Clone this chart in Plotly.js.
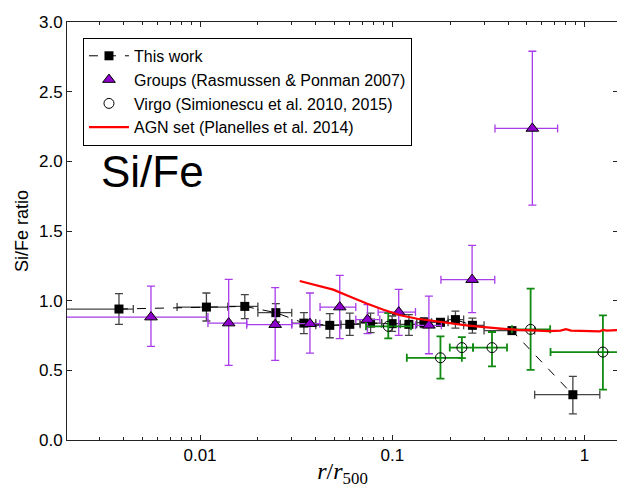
<!DOCTYPE html>
<html>
<head>
<meta charset="utf-8">
<script src="https://cdn.plot.ly/plotly-3.0.1.min.js"></script>
<style>
html,body{margin:0;padding:0;overflow:hidden;background:#fff;}
#chart{width:620px;height:488px;}
</style>
</head>
<body>
<div id="chart"></div>
<script>
// ---- This work (black squares) ----
const workX   = [0.00379, 0.0108, 0.0171, 0.0248, 0.0347, 0.0473, 0.0601, 0.0771, 0.0998, 0.122, 0.146, 0.178, 0.213, 0.261, 0.419, 0.869];
const workY   = [0.94, 0.954, 0.959, 0.914, 0.839, 0.823, 0.83, 0.839, 0.835, 0.83, 0.842, 0.845, 0.864, 0.823, 0.785, 0.325];
const workYlo = [0.83, 0.854, 0.871, 0.847, 0.763, 0.734, 0.751, 0.77, 0.78, 0.751, 0.806, 0.82, 0.803, 0.767, 0.77, 0.188];
const workYhi = [1.05, 1.055, 1.043, 0.979, 0.914, 0.907, 0.911, 0.91, 0.89, 0.90, 0.878, 0.87, 0.925, 0.875, 0.80, 0.456];
const workXlo = [0.0015, 0.0076, 0.0140, 0.0200, 0.0300, 0.0400, 0.0540, 0.0680, 0.0880, 0.1100, 0.1340, 0.1600, 0.1950, 0.2350, 0.3000, 0.5500];
const workXhi = [0.0045, 0.0140, 0.0200, 0.0300, 0.0400, 0.0540, 0.0680, 0.0880, 0.1100, 0.1340, 0.1600, 0.1950, 0.2350, 0.3000, 0.5500, 1.2000];

// ---- Groups (Rasmussen & Ponman 2007) ----
const grpX   = [0.00556, 0.0141, 0.0246, 0.0373, 0.0533, 0.0743, 0.108, 0.155, 0.26, 0.535];
const grpY   = [0.882, 0.839, 0.828, 0.835, 0.954, 0.864, 0.918, 0.823, 1.151, 2.236];
const grpYlo = [0.672, 0.535, 0.571, 0.624, 0.727, 0.763, 0.751, 0.619, 0.914, 1.685];
const grpYhi = [1.105, 1.153, 1.094, 1.055, 1.182, 0.971, 1.081, 1.033, 1.397, 2.79];
const grpXlo = [0.0015, 0.0110, 0.0175, 0.0300, 0.0421, 0.0646, 0.0844, 0.132, 0.179, 0.342];
const grpXhi = [0.0110, 0.0175, 0.0300, 0.0420, 0.0646, 0.0861, 0.132, 0.180, 0.341, 0.724];

// ---- Virgo (Simionescu et al. 2010, 2015) ----
const virX   = [0.0953, 0.178, 0.230, 0.330, 0.524, 1.245];
const virY   = [0.816, 0.59, 0.663, 0.663, 0.794, 0.631];
const virYlo = [0.73, 0.44, 0.588, 0.528, 0.504, 0.361];
const virYhi = [0.91, 0.744, 0.739, 0.775, 1.086, 0.895];
const virXlo = [0.073, 0.119, 0.199, 0.263, 0.419, 0.665];
const virXhi = [0.125, 0.230, 0.263, 0.395, 0.662, 2.0];

// ---- AGN set (Planelles et al. 2014) ----
const agnX = [0.033, 0.04, 0.0493, 0.06, 0.0736, 0.09, 0.11, 0.135, 0.163, 0.2, 0.243, 0.3, 0.362, 0.45, 0.539, 0.65, 0.75, 0.8, 0.85, 1.0, 1.2, 1.25, 1.3, 1.48];
const agnY = [1.141, 1.11, 1.079, 1.03, 0.979, 0.935, 0.895, 0.87, 0.854, 0.838, 0.823, 0.81, 0.799, 0.79, 0.787, 0.782, 0.785, 0.795, 0.785, 0.782, 0.78, 0.79, 0.785, 0.788];

const xTickVals = [0.01, 0.1, 1];
const xTickText = ['0.01', '0.1', '1'];
const xMinorVals = [0.003,0.004,0.005,0.006,0.007,0.008,0.009,0.02,0.03,0.04,0.05,0.06,0.07,0.08,0.09,0.2,0.3,0.4,0.5,0.6,0.7,0.8,0.9];

const sub = (a, b) => a.map((v, i) => v - b[i]);

const traces = [
  {
    name: 'This work', x: workX, y: workY, type: 'scatter', mode: 'lines+markers',
    line: {color: '#000', width: 1, dash: 'dash'},
    marker: {symbol: 'square', size: 9, color: '#000'},
    error_y: {type: 'data', symmetric: false, array: sub(workYhi, workY), arrayminus: sub(workY, workYlo), color: '#444', thickness: 1.3, width: 4},
    error_x: {type: 'data', symmetric: false, array: sub(workXhi, workX), arrayminus: sub(workX, workXlo), color: '#444', thickness: 1.3, width: 4}
  },
  {
    name: 'Groups (Rasmussen & Ponman 2007)', x: grpX, y: grpY, type: 'scatter', mode: 'markers',
    marker: {symbol: 'triangle-up', size: 11, color: '#8E00CC', line: {color: '#000', width: 1}},
    error_y: {type: 'data', symmetric: false, array: sub(grpYhi, grpY), arrayminus: sub(grpY, grpYlo), color: '#A83BEA', thickness: 1.3, width: 4},
    error_x: {type: 'data', symmetric: false, array: sub(grpXhi, grpX), arrayminus: sub(grpX, grpXlo), color: '#A83BEA', thickness: 1.3, width: 4}
  },
  {
    name: 'Virgo (Simionescu et al. 2010, 2015)', x: virX, y: virY, type: 'scatter', mode: 'markers',
    marker: {symbol: 'circle-open', size: 10, color: '#000', line: {width: 1}},
    error_y: {type: 'data', symmetric: false, array: sub(virYhi, virY), arrayminus: sub(virY, virYlo), color: '#118A11', thickness: 1.8, width: 4},
    error_x: {type: 'data', symmetric: false, array: sub(virXhi, virX), arrayminus: sub(virX, virXlo), color: '#118A11', thickness: 1.8, width: 4}
  },
  {
    name: 'AGN set (Planelles et al. 2014)', x: agnX, y: agnY, type: 'scatter', mode: 'lines',
    line: {color: '#FF0000', width: 2.2}
  }
];

const axisCommon = {
  showline: true, linecolor: '#222', linewidth: 1, mirror: 'ticks',
  ticks: 'inside', ticklen: 5, tickwidth: 1, tickcolor: '#222',
  showgrid: false, zeroline: false,
  tickfont: {family: 'Liberation Sans, Arial, sans-serif', size: 17, color: '#000'}
};

const layout = {
  width: 620, height: 488,
  margin: {l: 67, r: 2, t: 22, b: 48},
  paper_bgcolor: '#fff', plot_bgcolor: '#fff',
  font: {family: 'Liberation Sans, Arial, sans-serif', color: '#000'},
  xaxis: Object.assign({}, axisCommon, {
    type: 'log', range: [-2.6916, 0.1737],
    tickmode: 'array', tickvals: xTickVals, ticktext: xTickText,
    minor: {ticks: 'inside', ticklen: 3, tickwidth: 1, tickcolor: '#222', tickmode: 'array', tickvals: xMinorVals, showgrid: false},
    title: {text: '<i>r</i>/<i>r</i><sub>500</sub>', font: {family: 'Liberation Serif, serif', size: 24}, standoff: 13}
  }),
  yaxis: Object.assign({}, axisCommon, {
    range: [0, 3], tickmode: 'linear', tick0: 0, dtick: 0.5, tickformat: '.1f',
    title: {text: 'Si/Fe ratio', font: {family: 'Liberation Sans, Arial, sans-serif', size: 18}, standoff: 5}
  }),
  showlegend: true,
  legend: {
    x: 0.029, y: 0.962, xanchor: 'left', yanchor: 'top',
    bgcolor: '#fff', bordercolor: '#000', borderwidth: 1,
    font: {family: 'Liberation Sans, Arial, sans-serif', size: 16, color: '#000'},
    itemwidth: 40
  },
  annotations: [{
    text: 'Si/Fe', xref: 'paper', yref: 'paper', x: 0.058, y: 0.6435,
    xanchor: 'left', yanchor: 'middle', showarrow: false,
    font: {family: 'Liberation Sans, Arial, sans-serif', size: 44, color: '#000'}
  }]
};

Plotly.newPlot('chart', traces, layout, {displayModeBar: false, staticPlot: true});
</script>
</body>
</html>
